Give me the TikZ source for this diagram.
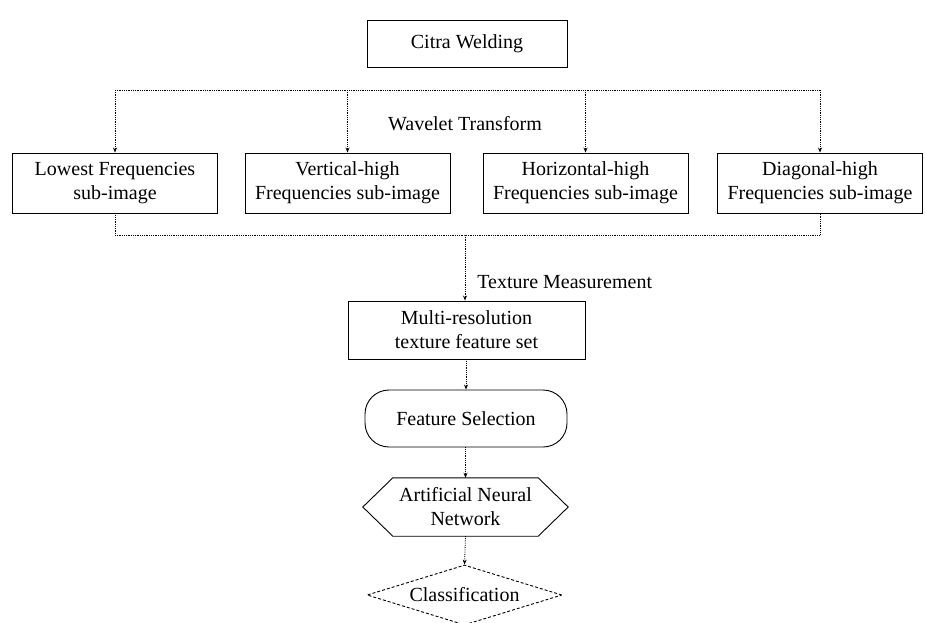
\documentclass[tikz,border=0pt]{standalone}
\usepackage{fontspec}
\setmainfont{Liberation Serif}
\usetikzlibrary{positioning,shapes.geometric,arrows.meta}

\begin{document}
\begin{tikzpicture}[x=1pt,y=-1pt,
    every node/.style={font=\fontsize{20}{24}\selectfont, align=center},
    boxnode/.style={draw, line width=0.9pt, minimum height=60pt, inner sep=2pt},
    subband/.style={boxnode, minimum width=205pt},
    link/.style={densely dotted, line width=0.8pt},
    flow/.style={link, -{Stealth[length=5pt,width=4pt]}}]
    \useasboundingbox (0,0) rectangle (925,622);
    \clip (0,0) rectangle (925,622);
    % input image and wavelet sub-bands
    \node[boxnode, minimum width=200pt, minimum height=47pt] (citra) at (467,43.5) {Citra Welding};
    \coordinate (split) at (465,90);
    \node[subband] (low) at (115,183) {Lowest Frequencies\\sub-image};
    \node[subband] (vert) at (347.5,183) {Vertical-high\\Frequencies sub-image};
    \node[subband] (hori) at (585.5,183) {Horizontal-high\\Frequencies sub-image};
    \node[subband] (diag) at (820,183) {Diagonal-high\\Frequencies sub-image};
    \node[inner sep=0pt, below=26pt of split] (wavelet) {Wavelet Transform};
    \draw[link] (split -| low) -- (split -| diag);
    \foreach \b in {low,vert,hori,diag}
      \draw[flow] (split -| \b) -- (\b);
    % texture features
    \coordinate (merge) at (465,235);
    \node[boxnode, minimum width=237pt, minimum height=58pt] (multi) at (466.5,330) {Multi-resolution\\texture feature set};
    \draw[link] (low.south) |- (merge) -| (diag.south);
    \draw[flow] (merge) -- (merge |- multi.north)
      node[pos=0.72, anchor=west, xshift=12pt, inner sep=0pt] (texture) {Texture Measurement};
    % selection and classifier
    \node[boxnode, rounded corners=24pt, minimum width=202pt, minimum height=57pt] (select) at (466,418.5) {Feature Selection};
    \node[minimum width=205pt, minimum height=58pt, inner sep=0pt] (ann) at (465.5,507) {Artificial Neural\\Network};
    \draw[line width=0.9pt] ([xshift=30pt]ann.north west) -- ([xshift=-30pt]ann.north east)
      -- (ann.east) -- ([xshift=-30pt]ann.south east) -- ([xshift=30pt]ann.south west)
      -- (ann.west) -- cycle;
    \node[draw, diamond, aspect=3.25, line width=0.9pt, densely dashed, minimum width=195pt, minimum height=60pt, inner sep=0pt] (classify) at (464.5,595) {Classification};
    \draw[flow] (multi.south -| select) -- (select);
    \draw[flow] (select.south -| ann) -- (ann.north);
    \draw[flow] (ann.south) -- (classify.north);
\end{tikzpicture}
\end{document}
